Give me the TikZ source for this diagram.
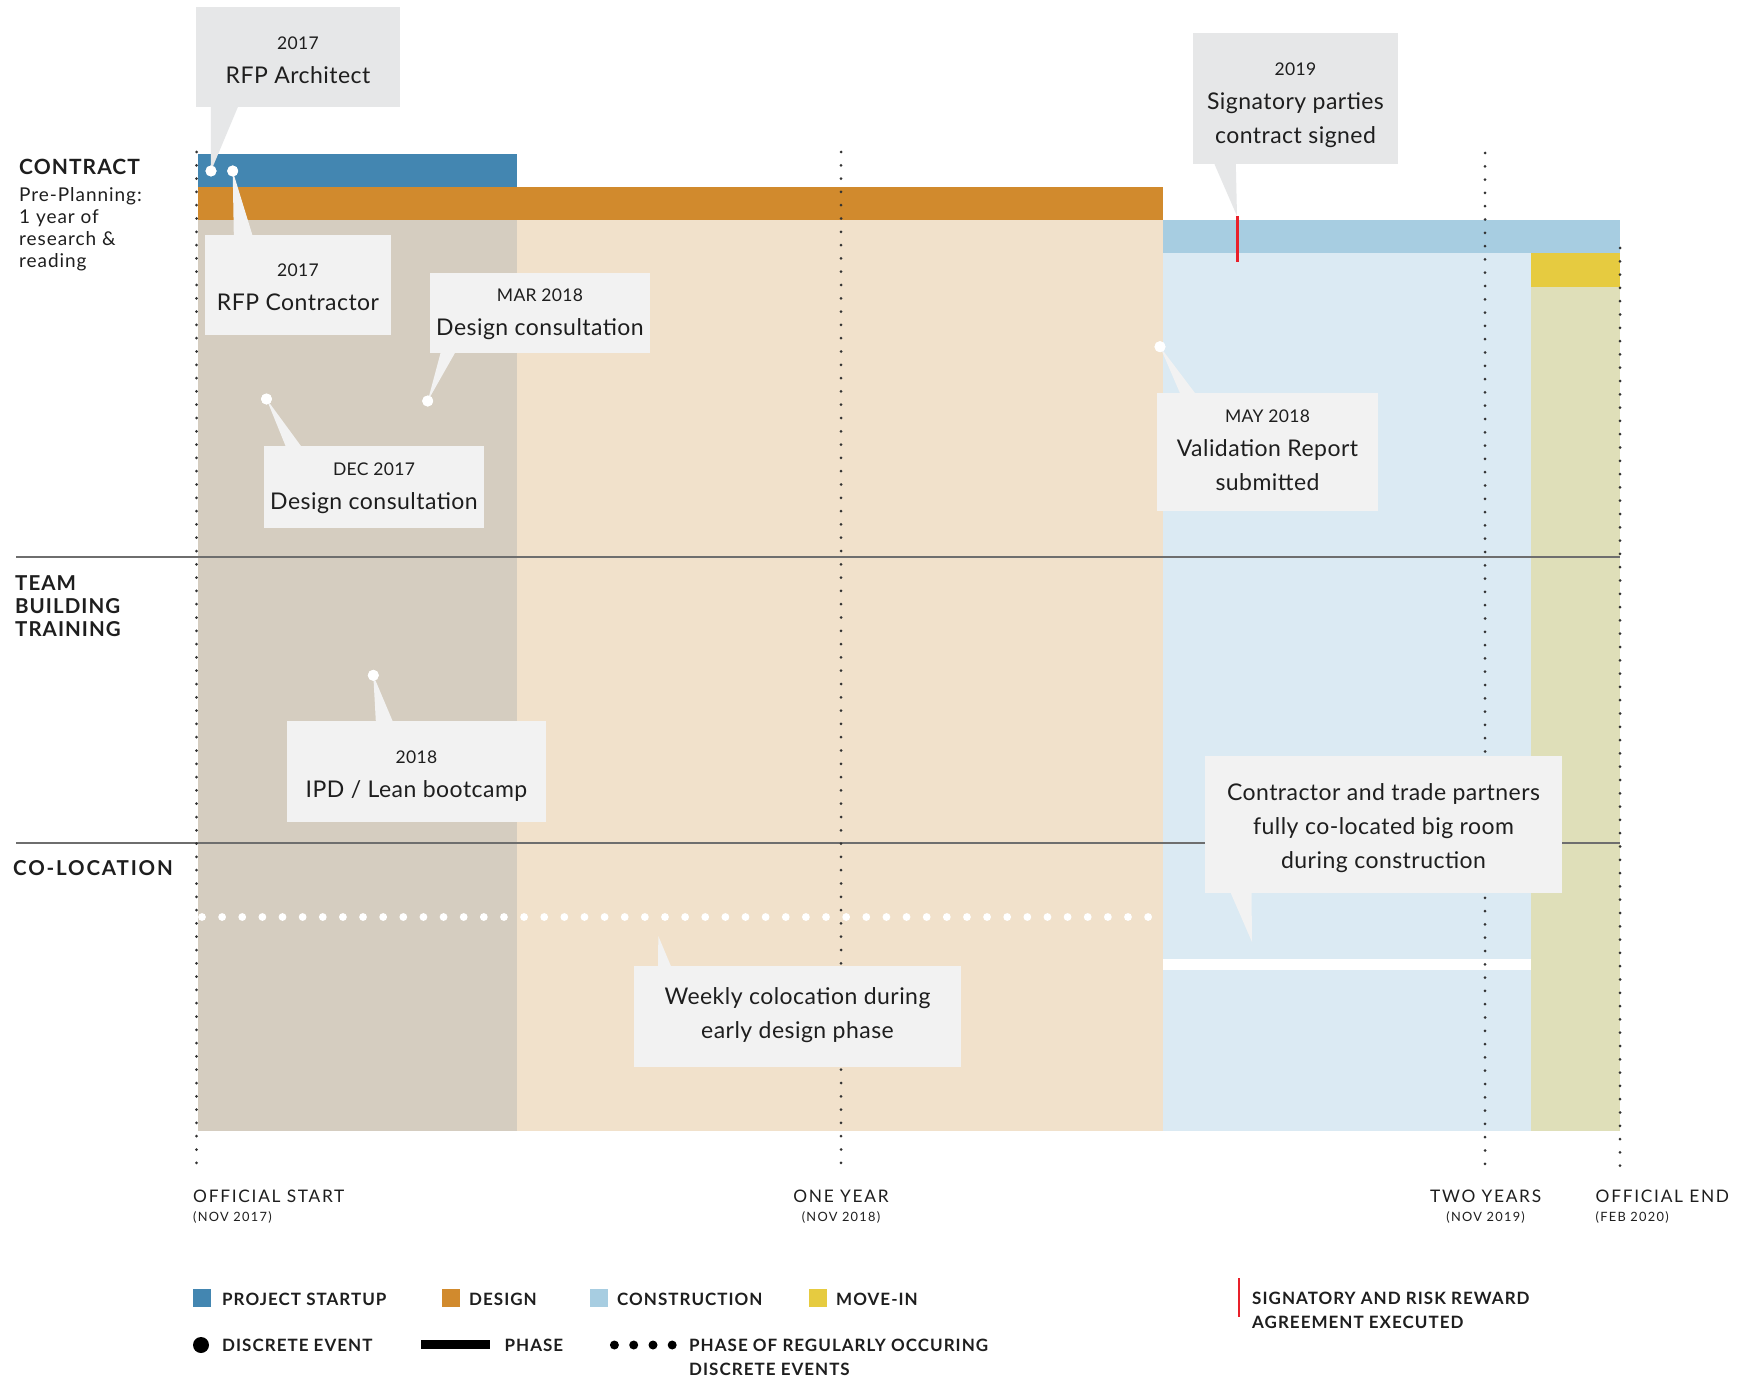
\documentclass[tikz,border=0pt]{standalone}
\usepackage{fontspec}
\setmainfont{Lato}
\newfontfamily\callf[LetterSpace=2]{Lato}
\newfontfamily\capf[LetterSpace=5]{Lato}
\newfontfamily\legf[LetterSpace=6]{Lato}
\newfontfamily\labf[LetterSpace=10]{Lato}
\newfontfamily\prepf[LetterSpace=5]{Lato}
\usetikzlibrary{calc}
\definecolor{cStart}{HTML}{4386B1}
\definecolor{cDesign}{HTML}{D18A2D}
\definecolor{cConstr}{HTML}{A7CDE1}
\definecolor{cMove}{HTML}{E6CB40}
\definecolor{colA}{HTML}{D5CDC0}
\definecolor{colB}{HTML}{F1E1CB}
\definecolor{colC}{HTML}{DBEAF3}
\definecolor{colD}{HTML}{DFDFB9}
\definecolor{callbg}{HTML}{F2F2F2}
\definecolor{calltop}{HTML}{E6E7E8}
\definecolor{hl}{HTML}{6E6E6E}
\definecolor{sigred}{HTML}{E8202A}
\definecolor{txt}{HTML}{1E1E1E}
\definecolor{dotc}{HTML}{333333}
\newcommand\cdate[1]{{\fontsize{17.5}{21}\selectfont\spaceskip=0.27em\relax #1\par}}
\newcommand\cmain[1]{{\fontsize{23}{34}\selectfont\spaceskip=0.28em\relax #1\par}}
\begin{document}
\begin{tikzpicture}[x=1pt,y=-1pt,
  callbox/.style={fill=callbg, inner sep=0pt},
  calltext/.style={inner sep=0pt, align=center, font=\callf, text=txt},
  evdot/.style={circle, fill=white, inner sep=0pt, minimum size=11pt},
  hline/.style={draw=hl, line width=1.3pt},
  vdots/.style={draw=dotc, line width=3pt, line cap=round, dash pattern=on 0pt off 13.3pt},
  sigline/.style={draw=sigred, line width=3pt},
  side/.style={anchor=base west, text=txt, inner sep=0pt, font={\capf\bfseries\fontsize{20.5}{22}\selectfont}},
  prep/.style={anchor=base west, text=txt, inner sep=0pt, font={\prepf\fontsize{19}{22}\selectfont}},
  axis/.style={text=txt, inner sep=0pt, font={\labf\fontsize{17.3}{17}\selectfont}},
  axsub/.style={text=txt, inner sep=0pt, font={\labf\fontsize{12.8}{13}\selectfont}},
  legsq/.style={minimum width=18pt, minimum height=18pt, inner sep=0pt},
  legtext/.style={anchor=base west, text=txt, inner sep=0pt, font={\legf\bfseries\fontsize{17}{17}\selectfont}}]
\fill[white] (0,0) rectangle (1742,1380);
\useasboundingbox (0,0) rectangle (1742,1380);
% phase columns
\fill[colA] (198,220) rectangle (517,1131);
\fill[colB] (517,220) rectangle (1163,1131);
\fill[colC] (1163,253) rectangle (1531,1131);
\fill[colD] (1531,287) rectangle (1620,1131);
% bars
\fill[cStart] (198,154) rectangle (517,187);
\fill[cDesign] (198,187) rectangle (1163,220);
\fill[cConstr] (1163,220) rectangle (1620,253);
\fill[cMove] (1531,253) rectangle (1620,287);
% row separators
\draw[hline] (16,557) -- (1620,557);
\draw[hline] (16,843) -- (1620,843);
% construction phase line
\fill[white] (1163,959) rectangle (1531,970);
% weekly colocation dots
\foreach \i in {0,...,47} \fill[white] ({202+\i*20.13},917) circle (3.9);
% time axis dotted lines
\draw[vdots] (196.5,152) -- (196.5,1172);
\draw[vdots] (841,152) -- (841,1172);
\draw[vdots] (1485,153) -- (1485,1175);
\draw[vdots] (1620,248) -- (1620,1172);
% signatory mark
\coordinate (sig) at (1237,216);
\draw[sigline] (sig) -- ++(0,46);
% event dots
\node[evdot] (d1) at (211,171) {};
\node[evdot] (d2) at (232.7,171) {};
\node[evdot] (d3) at (427.7,401) {};
\node[evdot] (d4) at (266.5,399) {};
\node[evdot] (d5) at (1160,346.7) {};
\node[evdot] (d7) at (373.3,675.3) {};
\coordinate (t8) at (1252,942);
\coordinate (t9) at (658.3,936);
% callout boxes
\node[callbox, fill=calltop, minimum width=204pt, minimum height=100pt] (b1) at (298,57) {};
\node[callbox, minimum width=186pt, minimum height=100pt] (b2) at (298,285) {};
\node[callbox, minimum width=220pt, minimum height=80pt] (b3) at (540,313) {};
\node[callbox, minimum width=220pt, minimum height=82pt] (b4) at (374,487) {};
\node[callbox, minimum width=221pt, minimum height=118pt] (b5) at (1267.5,452) {};
\node[callbox, fill=calltop, minimum width=205pt, minimum height=131pt] (b6) at (1295.5,98.5) {};
\node[callbox, minimum width=259pt, minimum height=101pt] (b7) at (416.5,771.5) {};
\node[callbox, minimum width=357pt, minimum height=137pt] (b8) at (1383.5,824.5) {};
\node[callbox, minimum width=327pt, minimum height=101pt] (b9) at (797.5,1016.5) {};
% callout pointers
\fill[calltop] ($(b1.south west)+(15,0)$) -- ($(b1.south west)+(42,0)$) -- (d1.center) -- cycle;
\fill[callbg] ($(b2.north west)+(29,0)$) -- ($(b2.north west)+(47.5,0)$) -- (d2.center) -- cycle;
\fill[callbg] ($(b3.south west)+(10.7,0)$) -- ($(b3.south west)+(25,0)$) -- (d3.center) -- cycle;
\fill[callbg] ($(b4.north west)+(21.7,0)$) -- ($(b4.north west)+(37,0)$) -- (d4.center) -- cycle;
\fill[callbg] ($(b5.north west)+(23,0)$) -- ($(b5.north west)+(38,0)$) -- (d5.center) -- cycle;
\fill[calltop] ($(b6.south west)+(21.7,0)$) -- ($(b6.south west)+(43,0)$) -- (sig) -- cycle;
\fill[callbg] ($(b7.north west)+(89,0)$) -- ($(b7.north west)+(105.7,0)$) -- (d7.center) -- cycle;
\fill[callbg] ($(b8.south west)+(26,0)$) -- ($(b8.south west)+(46.7,0)$) -- (t8) -- cycle;
\fill[callbg] ($(b9.north west)+(24.3,0)$) -- ($(b9.north west)+(37,0)$) -- (t9) -- cycle;
\foreach \d in {d1,d2,d3,d4,d5,d7} \fill[white] (\d.center) circle (5.5);
% callout texts
\node[calltext, text width=204pt] (b1t) at ($(b1.center)+(0,3.5)$) {\cdate{2017}\cmain{RFP Architect}};
\node[calltext, text width=186pt] (b2t) at ($(b2.center)+(0,2.2)$) {\cdate{2017}\cmain{RFP Contractor}};
\node[calltext, text width=220pt] (b3t) at ($(b3.center)+(0,1)$) {\cdate{MAR 2018}\cmain{Design consultation}};
\node[calltext, text width=220pt] (b4t) at ($(b4.center)+(0,1)$) {\cdate{DEC 2017}\cmain{Design consultation}};
\node[calltext, text width=221pt] (b5t) at ($(b5.center)+(0,-1.5)$) {\cdate{MAY 2018}\cmain{Validation Report}\cmain{submitted}};
\node[calltext, text width=205pt] (b6t) at ($(b6.center)+(0,6.5)$) {\cdate{2019}\cmain{Signatory parties}\cmain{contract signed}};
\node[calltext, text width=259pt] (b7t) at ($(b7.center)+(0,4.4)$) {\cdate{2018}\cmain{IPD / Lean bootcamp}};
\node[calltext, text width=357pt] (b8t) at ($(b8.center)+(0,3.3)$) {\cmain{Contractor and trade partners}\cmain{fully co-located big room}\cmain{during construction}};
\node[calltext, text width=327pt] (b9t) at ($(b9.center)+(0,-1)$) {\cmain{Weekly colocation during}\cmain{early design phase}};
% row labels
\node[side, font={\capf\bfseries\fontsize{21}{22}\selectfont}] (lContract) at (19,175) {CONTRACT};
\node[prep] (lPre1) at (19,201.7) {Pre-Planning:};
\node[prep] (lPre2) at (19,224) {1 year of};
\node[prep] (lPre3) at (19,246) {research \&};
\node[prep] (lPre4) at (19,268) {reading};
\node[side] (lTeam1) at (15,590.7) {TEAM};
\node[side] (lTeam2) at (15,613.3) {BUILDING};
\node[side] (lTeam3) at (15,636) {TRAINING};
\node[side, font={\capf\bfseries\fontsize{20.5}{22}\selectfont\addfontfeature{LetterSpace=9}}] (lColoc) at (13,875) {CO-LOCATION};
% axis labels
\node[axis, anchor=base west] (aStart) at (193,1202) {OFFICIAL START};
\node[axsub, anchor=base west] (aStartD) at (193,1221) {(NOV 2017)};
\node[axis, anchor=base] (aYear) at (841,1202) {ONE YEAR};
\node[axsub, anchor=base] (aYearD) at (841,1221) {(NOV 2018)};
\node[axis, anchor=base] (aTwo) at (1485.6,1202) {TWO YEARS};
\node[axsub, anchor=base] (aTwoD) at (1485.6,1221) {(NOV 2019)};
\node[axis, anchor=base west] (aEnd) at (1595.5,1202) {OFFICIAL END};
\node[axsub, anchor=base west] (aEndD) at (1595.5,1221) {(FEB 2020)};
% legend
\node[legsq, fill=cStart] (ls1) at (202,1297.5) {};
\node[legtext] (lt1) at (222,1305) {PROJECT STARTUP};
\node[legsq, fill=cDesign] (ls2) at (451,1297.5) {};
\node[legtext] (lt2) at (469,1305) {DESIGN};
\node[legsq, fill=cConstr] (ls3) at (599,1297.5) {};
\node[legtext] (lt3) at (617,1305) {CONSTRUCTION};
\node[legsq, fill=cMove] (ls4) at (818,1297.5) {};
\node[legtext] (lt4) at (836,1305) {MOVE-IN};
\coordinate (lr1) at (1239,1278);
\coordinate (lr2) at (1239,1317);
\draw[sigline, line width=2.2pt] (lr1) -- (lr2);
\node[legtext] (lt5) at (1252,1304) {SIGNATORY AND RISK REWARD};
\node[legtext] (lt6) at (1252,1328.3) {AGREEMENT EXECUTED};
\node[circle, fill=black, minimum size=16pt, inner sep=0pt] (lgDot) at (201,1345) {};
\node[legtext] (lt7) at (222,1351) {DISCRETE EVENT};
\coordinate (ph1) at (421,1344.5);
\coordinate (ph2) at (490,1344.5);
\draw[line width=8.5pt, black] (ph1) -- (ph2);
\node[legtext] (lt8) at (504.4,1351) {PHASE};
\foreach \xx in {614.4,633.7,653,672.2} \fill[black] (\xx,1345) circle (4.5);
\node[legtext] (lt9) at (689,1351.7) {PHASE OF REGULARLY OCCURING};
\node[legtext] (lt10) at (689,1375.7) {DISCRETE EVENTS};
\end{tikzpicture}
\end{document}
